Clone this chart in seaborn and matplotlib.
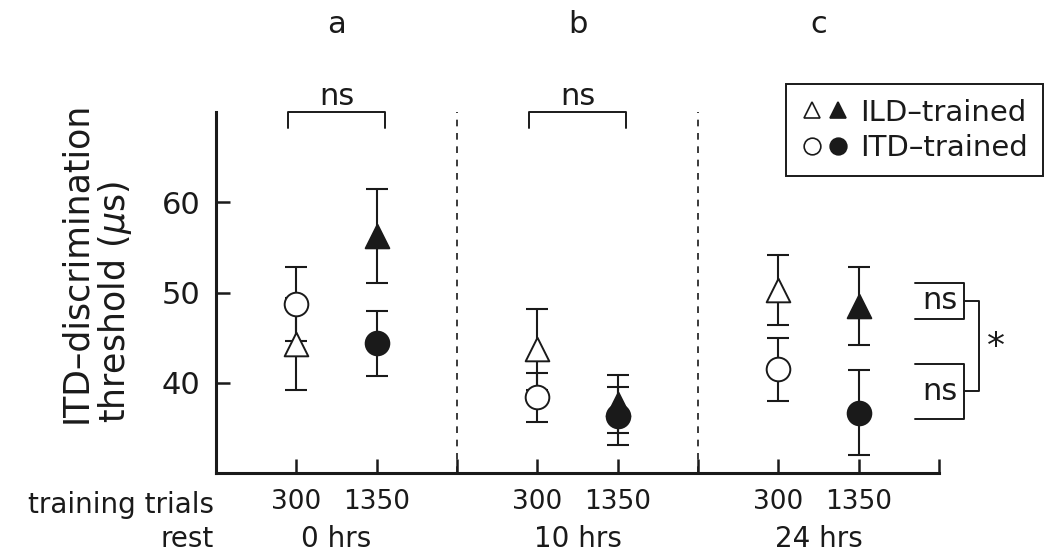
import pandas as pd
import matplotlib.pyplot as plt
import seaborn as sns
from matplotlib.lines import Line2D
from matplotlib.legend_handler import HandlerTuple

sns.set_style('ticks')
plt.rcParams['font.family'] = ['DejaVu Sans']
plt.rcParams['mathtext.fontset'] = 'dejavusans'

# values
x_pos = [1, 2, 4, 5, 7, 8]
trial_labels = ['300', '1350', '300', '1350', '300', '1350']
rest_labels = ['0 hrs', '10 hrs', '24 hrs']
panel_labels = ['a', 'b', 'c']
ild_mean = [44.3, 56.3, 43.7, 37.7, 50.3, 48.5]
ild_err = [5.1, 5.2, 4.5, 3.2, 3.9, 4.3]
itd_mean = [48.7, 44.4, 38.4, 36.3, 41.5, 36.7]
itd_err = [4.1, 3.6, 2.7, 3.2, 3.5, 4.7]
filled = [False, True, False, True, False, True]

df = pd.concat([
    pd.DataFrame({'x': x_pos, 'y': ild_mean, 'err': ild_err, 'filled': filled, 'group': 'ILD-trained'}),
    pd.DataFrame({'x': x_pos, 'y': itd_mean, 'err': itd_err, 'filled': filled, 'group': 'ITD-trained'}),
])

ink = '#1a1a1a'
markers = {'ILD-trained': '^', 'ITD-trained': 'o'}

fig = plt.figure(figsize=(10.5, 5.6), dpi=100)
ax = fig.add_axes([0.2057, 0.1548, 0.6886, 0.6457])

# error bars first, markers on top
ax.errorbar(df['x'], df['y'], yerr=df['err'], fmt='none', ecolor=ink,
            elinewidth=1.5, capsize=8, capthick=1.5, zorder=2)

for (grp, fil), sub in df.groupby(['group', 'filled']):
    sns.scatterplot(data=sub, x='x', y='y', marker=markers[grp], s=290,
                    color=ink if fil else 'white', edgecolor=ink, linewidth=1.4,
                    ax=ax, zorder=3, legend=False)

# dashed separators between conditions
for xd in [3, 6]:
    ax.axvline(xd, color=ink, lw=1.2, ls=(0, (4, 4)), zorder=1)

ax.set_xlim(0, 9)
ax.set_ylim(30, 70)
ax.set_yticks([40, 50, 60])
ax.set_xticks(range(1, 10))
ax.set_xticklabels(trial_labels[:2] + [''] + trial_labels[2:4] + [''] + trial_labels[4:] + [''])
ax.tick_params(direction='in', length=10, width=1.8, colors=ink)
ax.tick_params(axis='x', pad=11, labelsize=19)
ax.tick_params(axis='y', pad=11, labelsize=22)
ax.set_xlabel('')
ax.set_ylabel('ITD\u2013discrimination\nthreshold ($\\mu$s)', fontsize=25, color=ink,
              linespacing=1.1, multialignment='left')
ax.yaxis.set_label_coords(-0.114, 0.584)
sns.despine(ax=ax)
for side in ['left', 'bottom']:
    ax.spines[side].set_linewidth(2.2)
    ax.spines[side].set_color(ink)

# bottom row labels
ax.text(-0.03, 25.6, 'training trials', ha='right', va='baseline', fontsize=20,
        color=ink, clip_on=False)
ax.text(-0.03, 21.85, 'rest', ha='right', va='baseline', fontsize=20,
        color=ink, clip_on=False)
for i, lab in enumerate(rest_labels):
    ax.text(1.5 + 3 * i, 21.85, lab, ha='center', va='baseline', fontsize=20,
            color=ink, clip_on=False)

# panel letters
for i, lab in enumerate(panel_labels):
    ax.text(1.5 + 3 * i, 78.7, lab, ha='center', va='baseline', fontsize=22,
            color=ink, clip_on=False)

# ns brackets over panels a and b
for x0 in [0.9, 3.9]:
    ax.plot([x0, x0, x0 + 1.2, x0 + 1.2], [68.2, 70, 70, 68.2], color=ink, lw=1.4,
            clip_on=False)
    ax.text(x0 + 0.6, 70.7, 'ns', ha='center', va='baseline', fontsize=22,
            color=ink, clip_on=False)

# brackets on the right of panel c
ax.plot([8.705, 9.315, 9.315, 8.705], [51.07, 51.07, 47.1, 47.1], color=ink, lw=1.4, clip_on=False)
ax.plot([8.705, 9.315, 9.315, 8.705], [42.1, 42.1, 36.03, 36.03], color=ink, lw=1.4, clip_on=False)
ax.plot([9.315, 9.5, 9.5, 9.315], [49.07, 49.07, 39.07, 39.07], color=ink, lw=1.4, clip_on=False)
ax.text(9.01, 49.1, 'ns', ha='center', va='center', fontsize=22, color=ink, clip_on=False)
ax.text(9.01, 39.1, 'ns', ha='center', va='center', fontsize=22, color=ink, clip_on=False)
ax.text(9.71, 44.0, '*', ha='center', va='center', fontsize=26, color=ink, clip_on=False)

# legend with open and filled symbol pairs
h_ild = (Line2D([], [], marker='^', ls='none', ms=12, mfc='white', mec=ink, mew=1.2),
         Line2D([], [], marker='^', ls='none', ms=12, mfc=ink, mec=ink, mew=1.2))
h_itd = (Line2D([], [], marker='o', ls='none', ms=12, mfc='white', mec=ink, mew=1.2),
         Line2D([], [], marker='o', ls='none', ms=12, mfc=ink, mec=ink, mew=1.2))
leg = fig.legend([h_ild, h_itd], ['ILD\u2013trained', 'ITD\u2013trained'],
                 handler_map={tuple: HandlerTuple(ndivide=None, pad=0.1)},
                 loc='upper right', bbox_to_anchor=(0.993, 0.85), fontsize=21,
                 frameon=True, fancybox=False, edgecolor=ink, framealpha=1,
                 borderpad=0.5, handlelength=1.7, handletextpad=0.35,
                 labelspacing=0.25, borderaxespad=0)
leg.get_frame().set_linewidth(1.4)
for t in leg.get_texts():
    t.set_color(ink)

fig.savefig('out.png', dpi=100)
